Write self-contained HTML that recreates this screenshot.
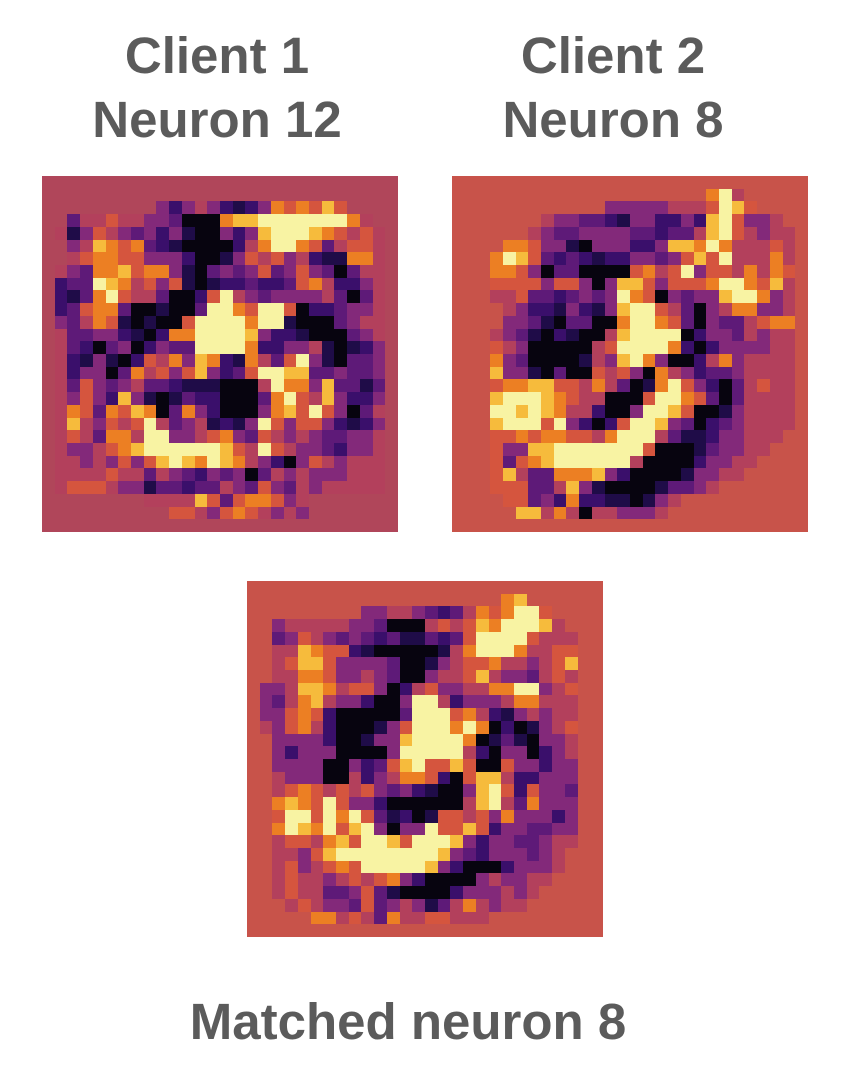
<!DOCTYPE html>
<html><head><meta charset="utf-8"><style>
html,body{margin:0;padding:0;background:#fff;width:850px;height:1068px;overflow:hidden}
svg{display:block}
text{font-family:"Liberation Sans",sans-serif;font-weight:bold;fill:#5b5b5b;font-size:51px}
</style></head><body>
<svg id="chart" width="850" height="1068" viewBox="0 0 850 1068" xmlns="http://www.w3.org/2000/svg">
<text x="217" y="73" text-anchor="middle">Client 1</text>
<text x="217" y="137" text-anchor="middle">Neuron 12</text>
<text x="613" y="73" text-anchor="middle">Client 2</text>
<text x="613" y="137" text-anchor="middle">Neuron 8</text>
<text x="408" y="1039" text-anchor="middle">Matched neuron 8</text>
</svg>
<script>
// colour levels 0..9 (inferno-like), "." = panel background
const levelColors = ["#07040f","#1f0c48","#3a0f6b","#5e1a78","#83297a","#b3405c","#d5553e","#ec7f23","#f6bb3c","#f8f3a3"];
const panel1Rows = [null,null,[9,"424542124767686"],[2,"355655443000788999999975"],[1,"51465434241004248999876565"],[2,"4587673210000257997635665"],[2,"5677664442001465645211775"],[1,"54377867741034346346430355"],[1,"23398756461012232236752245"],[1,"21379655300269543444453035"],[1,"23677300100399769960223445"],[1,"43576101006999979910003455"],[1,"53344210277999984221000345"],[1,"53203402433999972244510124"],[1,"52141026574872175369410334"],[1,"52440375646842369988334334"],[1,"53643453321110005977483313"],[1,"54642841013220003796584224"],[1,"57637687037420004786964035"],[1,"58546569534512149646642124"],[1,"56537759944567436545433445"],[1,"54456789999998659654432445"],[1,"55454646898798754204654555"],[1,"55556553543243403545444555"],[1,"56665441332335436435455555"],[8,"5555863677645"],[10,"66546765454"],null];
const panel2Rows = [null,[20,"795"],[12,"444445556986"],[7,"5443321442242896445"],[6,"543344443323358965455"],[4,"77644104442248879755565"],[3,"798632321224434686955575"],[3,"776403300006756946657576"],[3,"666646640488646667997685"],[3,"556332343497604344899745"],[4,"54221421489965304577445"],[4,"44310330079976304335677"],[3,"543102100589999024435455"],[3,"654000005699997202444455"],[3,"743000015489740025745555"],[3,"844103006564075423345555"],[3,"677886657530179642035655"],[3,"899987655000699763035555"],[3,"998987552004998600145555"],[3,"899969420269984302345555"],[3,"66767766579995311244555"],[3,"6448899999996000134455"],[3,"636789999995000024455"],[3,"68533777842000014455"],[3,"666335841000013345"],[4,"66342722110145"],[5,"885750554445"],null];
const panel3Rows = [null,[20,"78"],[9,"445543235767996"],[2,"45555544300056568799985"],[2,"346543432311323699996555"],[2,"558766210000015799975566"],[2,"568864444300145667554568"],[2,"557764454300455685443565"],[1,"4458875664025644557799456"],[1,"4357854420049952444577555"],[1,"4467620000039996752145455"],[1,"5467520001469997970201456"],[2,"444420014489999701310445"],[2,"424440000499999520440245"],[2,"444400423689668600644244"],[2,"544400524577620688522444"],[2,"567656564342100489626443"],[2,"787696442000000589537444"],[2,"699697963120166564744424"],[2,"798796894044966862443344"],[2,"566578699869998424433455"],[2,"55468999999998432444345"],[2,"56456769999984200024445"],[2,"5655456567420000454455"],[2,"565533463100002444545"],[3,"5654436345413575455"],[5,"77565375566555"],null];
const panels = [
  {name:"client1-heatmap", rows:panel1Rows, x:42, y:176, bg:"#b0465a"},
  {name:"client2-heatmap", rows:panel2Rows, x:452, y:176, bg:"#c8534a"},
  {name:"matched-heatmap", rows:panel3Rows, x:247, y:581, bg:"#c8534a"}
];
const N=28, SIZE=356, cell=SIZE/N;
const svg=document.getElementById('chart');
const NS="http://www.w3.org/2000/svg";
panels.forEach(p=>{
  const g=document.createElementNS(NS,'g');
  
  
  g.setAttribute('shape-rendering','crispEdges');
  const bg=document.createElementNS(NS,'rect');
  bg.setAttribute('x',p.x);bg.setAttribute('y',p.y);bg.setAttribute('width',SIZE);bg.setAttribute('height',SIZE);
  bg.setAttribute('fill',p.bg);
  
  
  g.appendChild(bg);
  p.rows.forEach((r,ri)=>{
    if(!r) return;
    const start=r[0], s=r[1];
    for(let k=0;k<s.length;k++){
      const ch=s[k]; if(ch<'0'||ch>'9') continue;
      const c=start+k;
      const rc=document.createElementNS(NS,'rect');
      const x0=p.x+Math.round(c*cell), x1=p.x+Math.round((c+1)*cell);
      const y0=p.y+Math.round(ri*cell), y1=p.y+Math.round((ri+1)*cell);
      rc.setAttribute('x',x0);rc.setAttribute('y',y0);
      rc.setAttribute('width',x1-x0);rc.setAttribute('height',y1-y0);
      rc.setAttribute('fill',levelColors[+ch]);
      
      
      g.appendChild(rc);
    }
  });
  svg.appendChild(g);
});
</script>
</body></html>
